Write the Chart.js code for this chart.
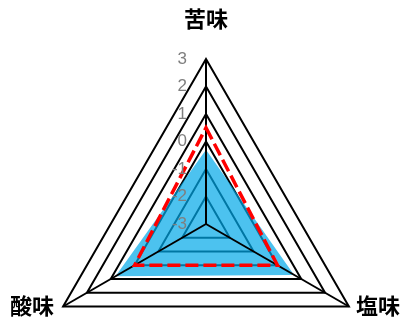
<!DOCTYPE html>
<html><head><meta charset="utf-8">
<script src="https://cdn.jsdelivr.net/npm/chart.js@4/dist/chart.umd.min.js"></script>
<style>
html,body{margin:0;padding:0;overflow:hidden;background:#fff;width:404px;height:320px}
#wrap{position:relative;width:404px;height:390px}
</style></head><body>
<div id="wrap"><canvas id="c"></canvas></div>
<script>
const categories = ['苦味', '塩味', '酸味'];
const seriesBlue = [-0.3, 0.7, 0.8];
const seriesRed = [0.5, 0, 0];
const tickValues = [3, 2, 1, 0, -1, -2, -3];

const overlay = {
  id: 'overlay',
  afterDatasetDraw(chart, args) {
    if (args.index !== 1) return;
    const s = chart.scales.r, ctx = chart.ctx;
    ctx.save();
    ctx.strokeStyle = '#000'; ctx.lineWidth = 2;
    for (let i = 0; i < categories.length; i++) {
      const p = s.getPointPositionForValue(i, s.max);
      ctx.beginPath(); ctx.moveTo(s.xCenter, s.yCenter); ctx.lineTo(p.x, p.y); ctx.stroke();
    }
    ctx.restore();
  },
  afterDraw(chart) {
    const s = chart.scales.r, ctx = chart.ctx;
    ctx.save();
    ctx.font = '17px "Liberation Sans", Arial, sans-serif';
    ctx.fillStyle = '#7f7f7f'; ctx.textAlign = 'right'; ctx.textBaseline = 'middle';
    tickValues.forEach(v => {
      const p = s.getPointPositionForValue(0, v);
      ctx.fillText(String(v), p.x - 19, p.y);
    });
    ctx.font = 'bold 22px "Noto Sans CJK JP", sans-serif';
    ctx.fillStyle = '#000'; ctx.textBaseline = 'middle';
    categories.forEach((c, i) => {
      const p = s.getPointPositionForValue(i, s.max);
      if (i === 0) { ctx.textAlign = 'center'; ctx.fillText(c, p.x, p.y - 40); }
      else if (i === 1) { ctx.textAlign = 'left'; ctx.fillText(c, p.x + 7, p.y - 1); }
      else { ctx.textAlign = 'right'; ctx.fillText(c, p.x - 9, p.y - 1); }
    });
    ctx.restore();
  }
};

new Chart(document.getElementById('c'), {
  type: 'radar',
  data: {
    labels: categories,
    datasets: [
      { data: seriesRed, borderColor: '#ff0000', borderWidth: 3.5, borderDash: [13, 5],
        fill: false, pointRadius: 0, tension: 0, backgroundColor: 'transparent' },
      { data: seriesBlue, backgroundColor: 'rgba(0,168,232,0.7)', borderColor: 'transparent',
        borderWidth: 0, fill: 'start', pointRadius: 0, tension: 0 }
    ]
  },
  options: {
    responsive: true, maintainAspectRatio: false, animation: false,
    layout: { padding: { left: 41, right: 33, top: 59, bottom: 1 } },
    plugins: { legend: { display: false }, tooltip: { enabled: false } },
    scales: {
      r: {
        min: -3, max: 3,
        ticks: { display: false, stepSize: 1 },
        grid: { color: '#000', lineWidth: 2 },
        angleLines: { display: false },
        pointLabels: { display: false }
      }
    }
  },
  plugins: [overlay]
});
</script>
</body></html>
